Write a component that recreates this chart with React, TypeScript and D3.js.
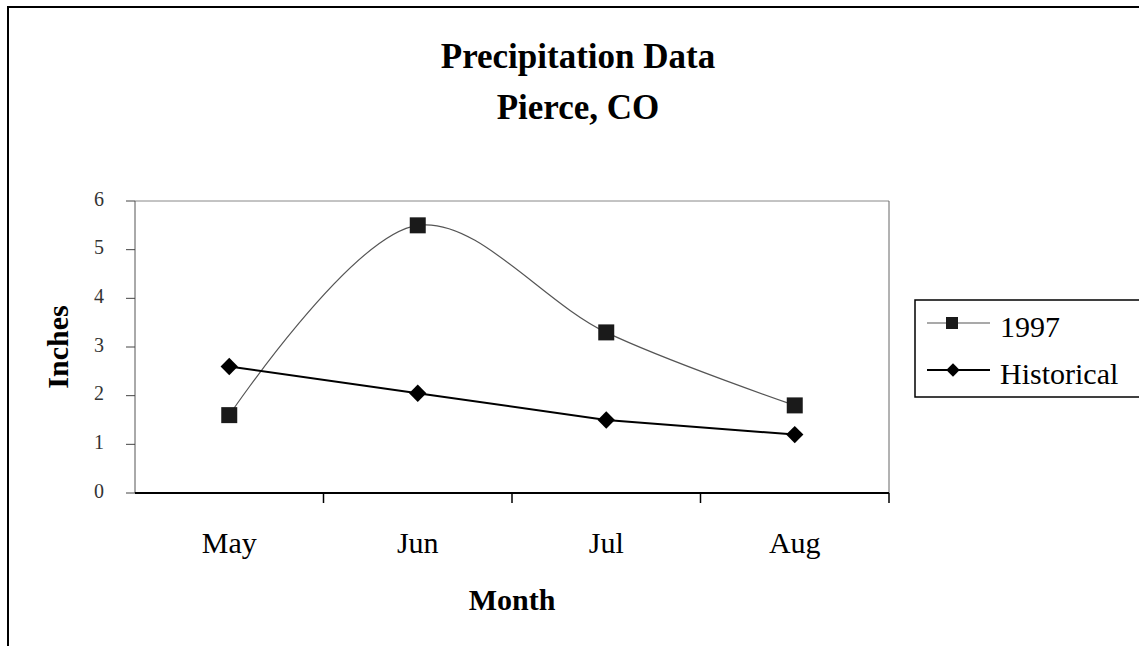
import * as d3 from "d3";

const months = ["May", "Jun", "Jul", "Aug"];
const rain1997 = [1.6, 5.5, 3.3, 1.8];
const historical = [2.6, 2.05, 1.5, 1.2];
const yTicks = [0, 1, 2, 3, 4, 5, 6];
const seriesNames = ["1997", "Historical"];

const W = 1139;
const H = 646;
const plot = { left: 135, right: 889, top: 201, bottom: 493 };
const serif = "'Liberation Serif', 'Times New Roman', serif";

export default function App() {
  const x = d3.scaleBand().domain(months).range([plot.left, plot.right]);
  const y = d3.scaleLinear().domain([0, 6]).range([plot.bottom, plot.top]);
  const cx = (m: string) => (x(m) as number) + x.bandwidth() / 2;

  const smooth = d3
    .line<number>()
    .x((_, i) => cx(months[i]))
    .y((d) => y(d))
    .curve(d3.curveCatmullRom.alpha(0.5));

  const straight = d3
    .line<number>()
    .x((_, i) => cx(months[i]))
    .y((d) => y(d));

  const square = d3.symbol(d3.symbolSquare, 256)();
  const diamond = d3.symbol(d3.symbolSquare, 150)();
  const squareSmall = d3.symbol(d3.symbolSquare, 144)();
  const diamondSmall = d3.symbol(d3.symbolSquare, 90)();

  // boundaries between month bands, plus the right end
  const xTickPos = months.map((m) => (x(m) as number) + x.bandwidth());

  return (
    <svg
      width={W}
      height={H}
      style={{ position: "absolute", left: 0, top: 0, background: "#fff" }}
      fontFamily={serif}
    >
      {/* outer chart frame */}
      <rect x={8} y={7} width={W + 20} height={H + 20} fill="#fff" stroke="#000" strokeWidth={2} />

      {/* title */}
      <text x={578} y={68} textAnchor="middle" fontSize={35} fontWeight="bold">
        Precipitation Data
      </text>
      <text x={578} y={119} textAnchor="middle" fontSize={35} fontWeight="bold">
        Pierce, CO
      </text>

      {/* plot area top/right border */}
      <line x1={plot.left} x2={plot.right} y1={plot.top} y2={plot.top} stroke="#888" strokeWidth={1} />
      <line x1={plot.right} x2={plot.right} y1={plot.top} y2={plot.bottom} stroke="#666" strokeWidth={1} />

      {/* y axis */}
      <line x1={plot.left} x2={plot.left} y1={plot.top} y2={plot.bottom} stroke="#555" strokeWidth={1} />
      {yTicks.map((t) => (
        <g key={t}>
          <line x1={plot.left - 9} x2={plot.left} y1={y(t)} y2={y(t)} stroke="#444" strokeWidth={1} />
          <text
            x={104}
            y={y(t)}
            textAnchor="end"
            dominantBaseline="middle"
            fontSize={20}
            fill="#333"
          >
            {t}
          </text>
        </g>
      ))}

      {/* x axis */}
      <line x1={plot.left} x2={plot.right} y1={plot.bottom} y2={plot.bottom} stroke="#000" strokeWidth={2} />
      {xTickPos.map((p, i) => (
        <line key={i} x1={p} x2={p} y1={plot.bottom} y2={plot.bottom + 10} stroke="#000" strokeWidth={1.5} />
      ))}
      {months.map((m) => (
        <text key={m} x={cx(m)} y={553} textAnchor="middle" fontSize={30}>
          {m}
        </text>
      ))}

      {/* axis titles */}
      <text x={512} y={610} textAnchor="middle" fontSize={30} fontWeight="bold">
        Month
      </text>
      <text
        transform={`translate(68,${(plot.top + plot.bottom) / 2}) rotate(-90)`}
        textAnchor="middle"
        fontSize={30}
        fontWeight="bold"
      >
        Inches
      </text>

      {/* series */}
      <path d={smooth(rain1997) || ""} fill="none" stroke="#555" strokeWidth={1.2} />
      <path d={straight(historical) || ""} fill="none" stroke="#000" strokeWidth={2} />
      {rain1997.map((v, i) => (
        <path key={"s" + i} d={square || ""} transform={`translate(${cx(months[i])},${y(v)})`} fill="#1a1a1a" />
      ))}
      {historical.map((v, i) => (
        <path
          key={"d" + i}
          d={diamond || ""}
          transform={`translate(${cx(months[i])},${y(v)}) rotate(45)`}
          fill="#000"
        />
      ))}

      {/* legend */}
      <rect x={915} y={300} width={260} height={97} fill="#fff" stroke="#000" strokeWidth={1.5} />
      <line x1={927} x2={990} y1={323} y2={323} stroke="#555" strokeWidth={1.2} />
      <path d={squareSmall || ""} transform="translate(952,323)" fill="#1a1a1a" />
      <text x={1000} y={337} fontSize={30}>
        {seriesNames[0]}
      </text>
      <line x1={927} x2={990} y1={370} y2={370} stroke="#000" strokeWidth={2} />
      <path d={diamondSmall || ""} transform="translate(953,370) rotate(45)" fill="#000" />
      <text x={1000} y={384} fontSize={30}>
        {seriesNames[1]}
      </text>
    </svg>
  );
}
